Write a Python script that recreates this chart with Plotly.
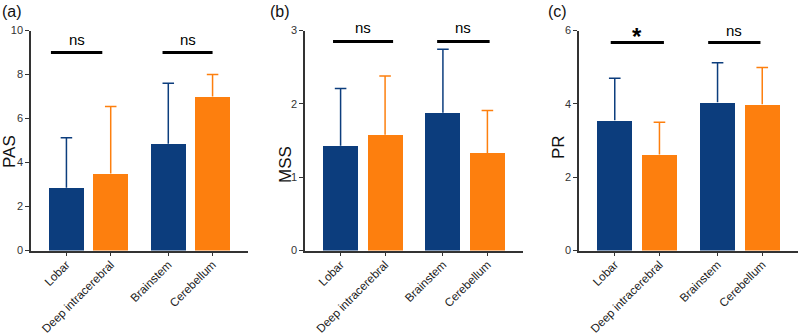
import plotly.graph_objects as go

categories = ["Lobar", "Deep intracerebral", "Brainstem", "Cerebellum"]
positions = [0, 1, 2.3, 3.3]
bar_colors = ["#0c3d7d", "#fd7f0e", "#0c3d7d", "#fd7f0e"]

pas_mean = [2.85, 3.5, 4.85, 7.0]
pas_upper = [5.12, 6.55, 7.6, 8.0]
mss_mean = [1.43, 1.58, 1.88, 1.33]
mss_upper = [2.21, 2.38, 2.745, 1.91]
pr_mean = [3.55, 2.62, 4.04, 3.99]
pr_upper = [4.7, 3.5, 5.12, 4.99]

y_titles = ["PAS", "MSS", "PR"]
panel_labels = ["(a)", "(b)", "(c)"]
y_ranges = [[0, 10], [0, 3], [0, 6]]
y_ticks = [[0, 2, 4, 6, 8, 10], [0, 1, 2, 3], [0, 2, 4, 6]]

# significance brackets: (x0, x1, y, label_y, label) in category units / data units
sig = [
    [(-0.35, 0.81, 9.0, 9.6, "ns"), (2.17, 3.3, 9.0, 9.6, "ns")],
    [(-0.17, 1.18, 2.85, 3.04, "ns"), (2.17, 3.35, 2.85, 3.04, "ns")],
    [(-0.09, 1.1, 5.67, 6.0, "*"), (2.09, 3.26, 5.67, 6.0, "ns")],
]

means = [pas_mean, mss_mean, pr_mean]
uppers = [pas_upper, mss_upper, pr_upper]

x_domains = [[31 / 800, 248 / 800], [305 / 800, 523 / 800], [579 / 800, 798 / 800]]
y_domain = [1 - 250.5 / 334, 1 - 30.5 / 334]
title_x = [9, 285, 558]
title_y = [152, 165, 147]
label_x = [0, 268, 546]
cap_half = 0.13

fig = go.Figure()
font_family = "Liberation Sans, Arial, sans-serif"
axis_color = "#333333"


def to_paper_y(val, rng):
    return y_domain[0] + (val - rng[0]) / (rng[1] - rng[0]) * (y_domain[1] - y_domain[0])


for i in range(3):
    xa = "x" if i == 0 else f"x{i+1}"
    ya = "y" if i == 0 else f"y{i+1}"
    fig.add_trace(go.Bar(
        x=positions, y=means[i], width=0.79,
        marker=dict(color=bar_colors, line=dict(width=0)),
        xaxis=xa, yaxis=ya, showlegend=False,
    ))
    for j in range(4):
        p, m, u = positions[j], means[i][j], uppers[i][j]
        fig.add_trace(go.Scatter(
            x=[p, p, None, p - cap_half, p + cap_half],
            y=[m, u, None, u, u], mode="lines",
            line=dict(color=bar_colors[j], width=1.5),
            xaxis=xa, yaxis=ya, showlegend=False, hoverinfo="skip",
        ))
    key_x = "xaxis" if i == 0 else f"xaxis{i+1}"
    key_y = "yaxis" if i == 0 else f"yaxis{i+1}"
    fig.update_layout(**{
        key_x: dict(domain=x_domains[i], range=[-0.8, 4.1], anchor=ya, automargin=False,
                    tickvals=positions, ticktext=categories, tickangle=-45,
                    showline=True, linecolor=axis_color, linewidth=1.5,
                    ticks="outside", ticklen=4, tickwidth=1.2, tickcolor=axis_color,
                    ticklabelstandoff=-3,
                    showgrid=False, zeroline=False,
                    tickfont=dict(family=font_family, size=11.7, color="#222222")),
        key_y: dict(domain=y_domain, range=y_ranges[i], anchor=xa, automargin=False,
                    tickvals=y_ticks[i], showline=True, linecolor=axis_color, linewidth=1.5,
                    ticks="outside", ticklen=4, tickwidth=1.2, tickcolor=axis_color,
                    showgrid=False, zeroline=False,
                    tickfont=dict(family=font_family, size=11, color="#333333")),
    })
    for (x0, x1, yl, ylab, lab) in sig[i]:
        star = lab == "*"
        fig.add_shape(type="line", x0=x0, x1=x1, y0=yl, y1=yl, xref=xa, yref=ya,
                      line=dict(color="black", width=3))
        fig.add_annotation(x=(x0 + x1) / 2, y=to_paper_y(ylab, y_ranges[i]),
                           xref=xa, yref="paper", text="<b>*</b>" if star else lab,
                           showarrow=False, xanchor="center", yanchor="middle",
                           font=dict(family=font_family, size=24 if star else 15,
                                     color="black"),
                           yshift=-6 if star else 0)
    fig.add_annotation(x=title_x[i] / 800, y=1 - title_y[i] / 334, xref="paper", yref="paper",
                       text=y_titles[i], textangle=-90, showarrow=False,
                       xanchor="center", yanchor="middle",
                       font=dict(family=font_family, size=17, color="#111111"))
    fig.add_annotation(x=label_x[i] / 800, y=1 - 12 / 334, xref="paper", yref="paper",
                       text=panel_labels[i], showarrow=False, xanchor="left", yanchor="middle",
                       font=dict(family=font_family, size=16, color="#111111"))

fig.update_layout(width=800, height=334, margin=dict(l=0, r=0, t=0, b=0),
                  plot_bgcolor="white", paper_bgcolor="white", bargap=0)
fig.write_html("out.html", config={"displayModeBar": False},
               post_script="document.body.style.margin='0';document.body.style.overflow='hidden';")
